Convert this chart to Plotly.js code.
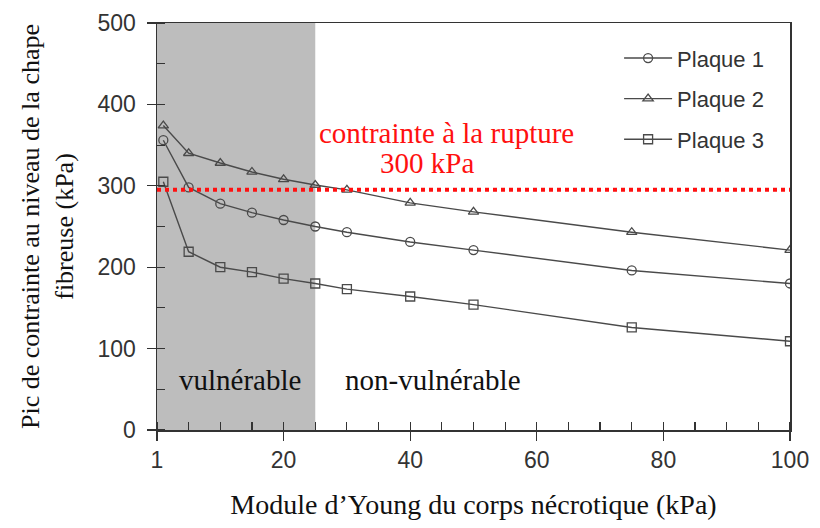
<!DOCTYPE html>
<html><head><meta charset="utf-8">
<script src="https://cdn.plot.ly/plotly-3.0.1.min.js"></script>
<style>body{margin:0;background:#fff}#chart{width:820px;height:528px}</style>
</head><body><div id="chart"></div>
<script>
const xVals = [1, 5, 10, 15, 20, 25, 30, 40, 50, 75, 100];
const plaque1 = [356, 298, 278, 267, 258, 250, 243, 231, 221, 196, 180];
const plaque2 = [374, 340, 328, 317, 308, 301, 295, 279, 268, 243, 221];
const plaque3 = [305, 219, 200, 194, 186, 180, 173, 164, 154, 126, 109];
const seriesNames = ['Plaque 1', 'Plaque 2', 'Plaque 3'];
const xTickVals = [0, 20, 40, 60, 80, 100];
const xTickText = ['1', '20', '40', '60', '80', '100'];
const ruptureStress = 295;
const vulnerableLimit = 25;

const lineColor = '#4a4a4a';
const serif = 'Liberation Serif, Times New Roman, serif';
const sans = 'Liberation Sans, Arial, sans-serif';

function mk(y, name, symbol, grp) {
  return {
    x: xVals, y: y, name: name, type: 'scatter', mode: 'lines+markers',
    legendgroup: grp,
    line: {color: lineColor, width: 1.4},
    marker: {symbol: symbol, size: 9, color: lineColor, line: {color: lineColor, width: 1.3}}
  };
}
const data = [
  mk(plaque1, seriesNames[0], 'circle-open', 'g1'),
  mk(plaque2, seriesNames[1], 'triangle-up-open', 'g2'),
  mk(plaque3, seriesNames[2], 'square-open', 'g3')
];

const layout = {
  width: 820, height: 528,
  margin: {l: 157, r: 30, t: 23, b: 98},
  paper_bgcolor: '#fff', plot_bgcolor: '#fff',
  showlegend: true,
  legend: {x: 0.73, y: 0.965, xanchor: 'left', yanchor: 'top', bgcolor: 'rgba(0,0,0,0)',
           itemwidth: 48,
           font: {family: sans, size: 22, color: '#333'}, tracegroupgap: 9},
  xaxis: {
    range: [0, 100], tickvals: xTickVals, ticktext: xTickText,
    ticks: 'outside', ticklen: 9, tickcolor: '#333', tickwidth: 1.2,
    minor: {dtick: 5, ticks: 'inside', ticklen: 8, tickcolor: '#333'},
    showline: true, linecolor: '#333', linewidth: 1.5, mirror: true,
    showgrid: false, zeroline: false,
    tickfont: {family: sans, size: 23, color: '#333'},
    title: {text: 'Module d\u2019Young du corps nécrotique (kPa)', font: {family: serif, size: 28, color: '#111'}, standoff: 22}
  },
  yaxis: {
    range: [0, 500], dtick: 100,
    ticks: 'outside', ticklen: 9, tickcolor: '#333', tickwidth: 1.2,
    minor: {dtick: 50, ticks: 'inside', ticklen: 8, tickcolor: '#333'},
    showline: true, linecolor: '#333', linewidth: 1.5, mirror: true,
    showgrid: false, zeroline: false, ticklabelstandoff: 6,
    tickfont: {family: sans, size: 23, color: '#333'},
    title: {text: 'Pic de contrainte au niveau de la chape<br>fibreuse (kPa)', font: {family: serif, size: 26, color: '#111'}, standoff: 16}
  },
  shapes: [
    {type: 'rect', xref: 'x', yref: 'y', x0: 0, x1: vulnerableLimit, y0: 0, y1: 500,
     fillcolor: '#bdbdbd', line: {width: 0}, layer: 'below'},
    {type: 'line', xref: 'x', yref: 'y', x0: 0, x1: 100, y0: ruptureStress, y1: ruptureStress,
     line: {color: '#ff1010', width: 4, dash: 'dot'}, layer: 'above'}
  ],
  annotations: [
    {x: 45.8, y: 365, xref: 'x', yref: 'y', text: 'contrainte à la rupture', showarrow: false,
     font: {family: serif, size: 29, color: '#ff1010'}},
    {x: 42.7, y: 328, xref: 'x', yref: 'y', text: '300 kPa', showarrow: false,
     font: {family: serif, size: 29, color: '#ff1010'}},
    {x: 13.1, y: 61, xref: 'x', yref: 'y', text: 'vulnérable', showarrow: false,
     font: {family: serif, size: 29, color: '#111'}},
    {x: 43.6, y: 61, xref: 'x', yref: 'y', text: 'non-vulnérable', showarrow: false,
     font: {family: serif, size: 29, color: '#111'}}
  ]
};
Plotly.newPlot('chart', data, layout, {displayModeBar: false, staticPlot: true});
</script></body></html>
